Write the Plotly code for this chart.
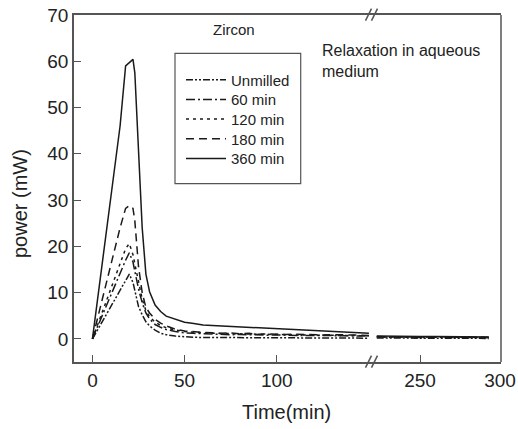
import plotly.graph_objects as go

# ---------------- data ----------------
series_names = ["Unmilled", "60 min", "120 min", "180 min", "360 min"]

x_left = [0, 5, 10, 15, 18, 20, 22, 23, 25, 27, 29, 31, 34, 37, 40, 45, 50, 55, 60, 65,
          70, 75, 80, 85, 90, 95, 100, 105, 110, 115, 120, 125, 130, 135, 140, 145, 150]
x_right = [223, 230, 240, 250, 260, 270, 280, 293]

unmilled_left = [0, 3.5, 7.0, 10.5, 12.8, 14.0, 12.2, 10.6, 7.0, 5.2, 3.7, 2.8, 1.9, 1.2, 0.9, 0.6,
                 0.4, 0.35, 0.3, 0.3, 0.25, 0.3, 0.25, 0.2, 0.25, 0.2, 0.2, 0.25, 0.2, 0.2, 0.15,
                 0.2, 0.2, 0.15, 0.2, 0.15, 0.15]
min60_left = [0, 4.8, 9.5, 14.2, 17.0, 18.6, 16.6, 14.6, 10.8, 7.8, 5.6, 4.3, 3.1, 2.5, 2.0, 1.6,
              1.3, 1.2, 1.1, 1.0, 1.0, 0.9, 0.95, 0.85, 0.9, 0.8, 0.85, 0.75, 0.8, 0.7, 0.75,
              0.7, 0.65, 0.7, 0.6, 0.65, 0.6]
min120_left = [0, 5.5, 11.0, 16.5, 19.5, 20.6, 18.2, 16.2, 12.0, 8.6, 6.1, 4.8, 3.6, 2.9, 2.4, 1.9,
               1.6, 1.4, 1.3, 1.2, 1.15, 1.05, 1.1, 1.0, 0.95, 1.0, 0.9, 0.9, 0.85, 0.85, 0.8,
               0.8, 0.75, 0.75, 0.7, 0.7, 0.65]
min180_left = [0, 8.0, 16.2, 24.0, 28.2, 28.8, 28.2, 25.5, 15.6, 10.0, 6.8, 5.6, 4.2, 3.4, 2.8, 2.1,
               1.7, 1.5, 1.4, 1.3, 1.2, 1.3, 1.1, 1.2, 1.0, 1.1, 1.0, 0.95, 1.0, 0.9, 0.95,
               0.85, 0.9, 0.8, 0.85, 0.8, 0.75]
min360_left = [0, 15.0, 30.5, 46.0, 59.0, 59.8, 60.4, 57.5, 40.0, 24.0, 14.0, 10.2, 7.3, 5.9, 4.9, 4.2,
               3.6, 3.3, 3.0, 2.9, 2.8, 2.7, 2.6, 2.5, 2.4, 2.25, 2.1, 2.0, 1.9, 1.8, 1.7,
               1.6, 1.5, 1.45, 1.35, 1.3, 1.2]

unmilled_right = [0.2, 0.15, 0.2, 0.15, 0.15, 0.1, 0.15, 0.1]
min60_right = [0.4, 0.35, 0.4, 0.3, 0.35, 0.3, 0.3, 0.25]
min120_right = [0.45, 0.4, 0.4, 0.35, 0.4, 0.35, 0.3, 0.3]
min180_right = [0.5, 0.45, 0.5, 0.4, 0.45, 0.4, 0.4, 0.35]
min360_right = [0.6, 0.55, 0.55, 0.5, 0.5, 0.45, 0.45, 0.4]

left_values = [unmilled_left, min60_left, min120_left, min180_left, min360_left]
right_values = [unmilled_right, min60_right, min120_right, min180_right, min360_right]

x_ticks_left = [0, 50, 100]
x_ticks_right = [250, 300]
y_ticks = [0, 10, 20, 30, 40, 50, 60, 70]

# ---------------- styling ----------------
FONT = "Liberation Sans, Arial, sans-serif"
TXT = "#222222"
AX = "#555555"
LINE = "#1a1a1a"
dashes = ["7px,2px,2px,2px,2px,2px", "9px,3px,2px,3px", "3px,4px", "8px,5px", "solid"]
legend_rows_px = [80, 99.7, 119.3, 139, 158.7]

W, H = 518, 429
ML, MR, MT, MB = 74, 17, 15, 67
PW, PH = W - ML - MR, H - MT - MB


def px(xp):
    return (xp - ML) / PW


def py(yp):
    return (H - MB - yp) / PH


split = px(371.5)
legend_ids = ["legend", "legend2", "legend3", "legend4", "legend5"]

fig = go.Figure()
for name, yl, yr, d, lid in zip(series_names, left_values, right_values, dashes, legend_ids):
    fig.add_trace(go.Scatter(x=x_left, y=yl, mode="lines", name=name, legendgroup=name,
                             legend=lid, line=dict(color=LINE, width=1.5, dash=d),
                             xaxis="x", yaxis="y"))
    fig.add_trace(go.Scatter(x=x_right, y=yr, mode="lines", name=name, legendgroup=name,
                             showlegend=False, line=dict(color=LINE, width=1.5, dash=d),
                             xaxis="x2", yaxis="y"))

axis_common = dict(showline=True, linecolor=AX, linewidth=1.5, ticks="inside", ticklen=7,
                   tickcolor=AX, tickwidth=1.2, showgrid=False, zeroline=False,
                   automargin=False,
                   tickfont=dict(family=FONT, size=19, color=TXT))

fig.update_layout(
    width=W, height=H,
    margin=dict(l=ML, r=MR, t=MT, b=MB, autoexpand=False),
    paper_bgcolor="white", plot_bgcolor="white",
    xaxis=dict(domain=[0, split], range=[-10, 151.4], tickvals=x_ticks_left,
               mirror=True, anchor="y", **axis_common),
    xaxis2=dict(domain=[split, 1], range=[219.7, 300.6], tickvals=x_ticks_right,
                mirror=True, anchor="y", **axis_common),
    yaxis=dict(range=[-5, 70], tickvals=y_ticks, anchor="x", **axis_common),
    showlegend=True,
)

for lid, row in zip(legend_ids, legend_rows_px):
    fig.update_layout({lid: dict(x=px(181), y=py(row), xanchor="left", yanchor="middle",
                                 bgcolor="rgba(0,0,0,0)", borderwidth=0, itemwidth=40,
                                 font=dict(family=FONT, size=15, color=TXT))})

shapes = []
# right border
shapes.append(dict(type="line", xref="paper", yref="paper", x0=1, x1=1, y0=0, y1=1,
                   line=dict(color=AX, width=1.5)))
# legend box
shapes.append(dict(type="rect", xref="paper", yref="paper", x0=px(175), x1=px(300.7),
                   y0=py(183.7), y1=py(53.3), line=dict(color=AX, width=1.2)))
# axis break marks
for ybase in (361.7, 14.7):
    for cx in (368.5, 374.5):
        shapes.append(dict(type="line", xref="paper", yref="paper",
                           x0=px(cx - 3), y0=py(ybase + 6), x1=px(cx + 3), y1=py(ybase - 6),
                           line=dict(color=AX, width=1.5)))
fig.update_layout(shapes=shapes)

annotations = [
    dict(text="Zircon", x=px(234.3), y=py(30), xref="paper", yref="paper",
         showarrow=False, xanchor="center", yanchor="middle",
         font=dict(family=FONT, size=15, color=TXT)),
    dict(text="Relaxation in aqueous<br>medium", x=px(320), y=py(40), xref="paper", yref="paper",
         showarrow=False, xanchor="left", yanchor="top", align="left",
         font=dict(family=FONT, size=16, color=TXT)),
    dict(text="Time(min)", x=px(286.7), y=py(411.7), xref="paper", yref="paper",
         showarrow=False, xanchor="center", yanchor="middle",
         font=dict(family=FONT, size=20, color=TXT)),
    dict(text="power (mW)", x=px(20.7), y=py(203.3), xref="paper", yref="paper",
         showarrow=False, xanchor="center", yanchor="middle", textangle=-90,
         font=dict(family=FONT, size=20, color=TXT)),
]
fig.update_layout(annotations=annotations)

fig.write_html("out.html", config={"displayModeBar": False},
               post_script="document.body.style.margin='0';document.body.style.padding='0';"
                           "document.documentElement.style.overflow='hidden';")
